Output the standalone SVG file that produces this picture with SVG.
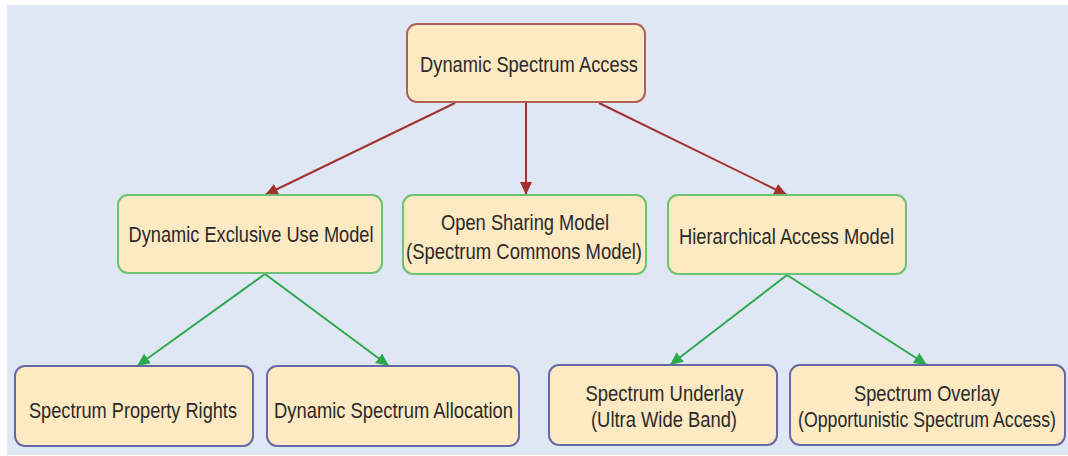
<svg xmlns="http://www.w3.org/2000/svg" width="1068" height="456" viewBox="0 0 1068 456">
  <defs>
    <marker id="arrow-red" markerUnits="userSpaceOnUse" markerWidth="14" markerHeight="12" refX="13" refY="6" orient="auto">
      <path d="M0,0 L13,6 L0,12 Z" fill="#a3322e"/>
    </marker>
    <marker id="arrow-green" markerUnits="userSpaceOnUse" markerWidth="14" markerHeight="12" refX="13" refY="6" orient="auto">
      <path d="M0,0 L13,6 L0,12 Z" fill="#2ea84c"/>
    </marker>
    <style>
      .box { fill: #fde9c2; stroke-width: 2; }
      .root { stroke: #b0605a; }
      .mid { stroke: #6cc272; }
      .leaf { stroke: #6868a8; }
      .lbl { font-family: "Liberation Sans", Arial, sans-serif; font-size: 22px; fill: #2a2a2a; text-anchor: middle; }
      .red { stroke: #a3322e; stroke-width: 2; fill: none; marker-end: url(#arrow-red); }
      .green { stroke: #2ea84c; stroke-width: 2; fill: none; marker-end: url(#arrow-green); }
    </style>
  </defs>

  <!-- panel background -->
  <rect x="7" y="5" width="1061" height="450" fill="#e0e7f4"/>

  <!-- connectors -->
  <g id="connectors">
    <line class="red" x1="455" y1="103" x2="265" y2="195"/>
    <line class="red" x1="526" y1="103" x2="526" y2="195"/>
    <line class="red" x1="599" y1="103" x2="787" y2="195"/>
    <line class="green" x1="265" y1="274" x2="137" y2="366"/>
    <line class="green" x1="265" y1="274" x2="389" y2="366"/>
    <line class="green" x1="787" y1="275" x2="670" y2="365"/>
    <line class="green" x1="787" y1="275" x2="927" y2="365"/>
  </g>

  <!-- root -->
  <g id="dynamic-spectrum-access">
    <rect class="box root" x="407" y="24" width="238" height="78" rx="10"/>
    <text class="lbl" x="529" y="72" textLength="218" lengthAdjust="spacingAndGlyphs">Dynamic Spectrum Access</text>
  </g>

  <!-- access models -->
  <g id="dynamic-exclusive-use-model">
    <rect class="box mid" x="118" y="195" width="264" height="78" rx="10"/>
    <text class="lbl" x="251" y="242" textLength="245" lengthAdjust="spacingAndGlyphs">Dynamic Exclusive Use Model</text>
  </g>
  <g id="open-sharing-model">
    <rect class="box mid" x="403" y="195" width="243" height="79" rx="10"/>
    <text class="lbl" x="525" y="230" textLength="168" lengthAdjust="spacingAndGlyphs">Open Sharing Model</text>
    <text class="lbl" x="524" y="259" textLength="236" lengthAdjust="spacingAndGlyphs">(Spectrum Commons Model)</text>
  </g>
  <g id="hierarchical-access-model">
    <rect class="box mid" x="668" y="195" width="238" height="79" rx="10"/>
    <text class="lbl" x="786.5" y="244" textLength="215" lengthAdjust="spacingAndGlyphs">Hierarchical Access Model</text>
  </g>

  <!-- leaves -->
  <g id="spectrum-property-rights">
    <rect class="box leaf" x="15" y="366" width="238" height="80" rx="10"/>
    <text class="lbl" x="133" y="418" textLength="208" lengthAdjust="spacingAndGlyphs">Spectrum Property Rights</text>
  </g>
  <g id="dynamic-spectrum-allocation">
    <rect class="box leaf" x="267" y="366" width="252" height="80" rx="10"/>
    <text class="lbl" x="393.5" y="418" textLength="239" lengthAdjust="spacingAndGlyphs">Dynamic Spectrum Allocation</text>
  </g>
  <g id="spectrum-underlay">
    <rect class="box leaf" x="549" y="365" width="228" height="80" rx="10"/>
    <text class="lbl" x="664.5" y="400.5" textLength="158" lengthAdjust="spacingAndGlyphs">Spectrum Underlay</text>
    <text class="lbl" x="664" y="427" textLength="146" lengthAdjust="spacingAndGlyphs">(Ultra Wide Band)</text>
  </g>
  <g id="spectrum-overlay">
    <rect class="box leaf" x="790" y="365" width="275" height="80" rx="10"/>
    <text class="lbl" x="927" y="400.5" textLength="146" lengthAdjust="spacingAndGlyphs">Spectrum Overlay</text>
    <text class="lbl" x="927" y="427" textLength="258" lengthAdjust="spacingAndGlyphs">(Opportunistic Spectrum Access)</text>
  </g>
</svg>
